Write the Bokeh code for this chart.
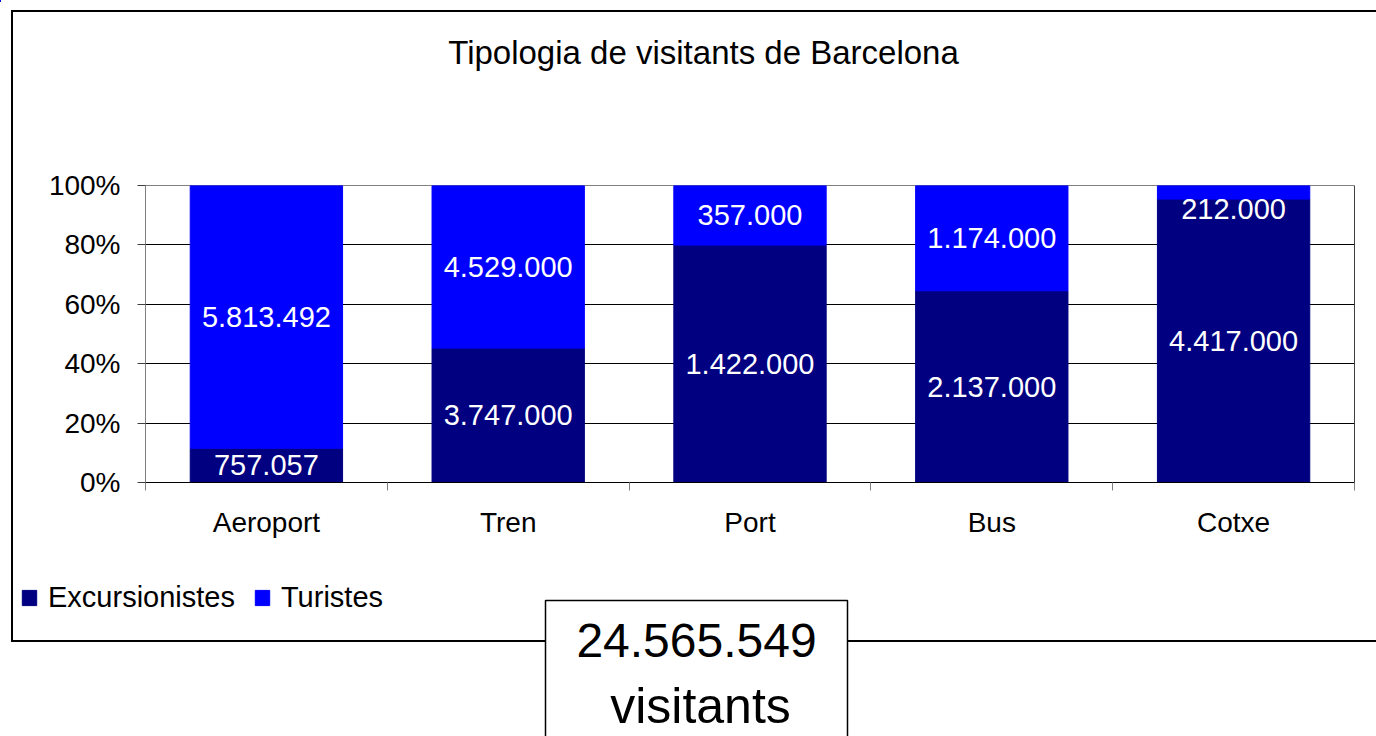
from bokeh.plotting import figure
from bokeh.models import (ColumnDataSource, Range1d, FixedTicker, NumeralTickFormatter,
                          LabelSet, Label, Legend, LegendItem, Span, BoxAnnotation)
from bokeh.core.properties import value
from bokeh.embed import file_html
from bokeh.resources import INLINE

# ---- data ----
categories = ["Aeroport", "Tren", "Port", "Bus", "Cotxe"]
excursionistes = [757057, 3747000, 1422000, 2137000, 4417000]
turistes = [5813492, 4529000, 357000, 1174000, 212000]
series_names = ["Excursionistes", "Turistes"]
y_ticks = [0, 0.2, 0.4, 0.6, 0.8, 1.0]
title_text = "Tipologia de visitants de Barcelona"
total_text = "24.565.549"
total_unit = "visitants"

FONT = "Liberation Sans"
NAVY = "#000080"
BLUE = "#0000FF"
W, H = 1376, 736
Y_CHART, H_CHART = 110, 450
LINE = "linear-gradient(#000,#000)"


def fmt(v):
    return f"{v:,}".replace(",", ".")


n = len(categories)
x = [i + 0.5 for i in range(n)]
tot = [e + t for e, t in zip(excursionistes, turistes)]
exc_pct = [e / s for e, s in zip(excursionistes, tot)]
tur_pct = [t / s for t, s in zip(turistes, tot)]
src = ColumnDataSource(dict(x=x, exc=exc_pct, tur=tur_pct))


def pos(top, **extra):
    st = {"position": "absolute", "left": "0px", "top": f"{top}px", "z-index": "0"}
    st.update(extra)
    return st


# ---- chart ----
p = figure(width=W, height=H_CHART, output_backend="svg", toolbar_location=None,
           x_range=Range1d(0, n), y_range=Range1d(0, 1),
           min_border_left=145, min_border_right=22,
           min_border_top=75, min_border_bottom=78,
           title_location=None, styles=pos(Y_CHART))
p.background_fill_color = "white"
p.border_fill_color = None
p.outline_line_color = "#808080"
p.outline_line_width = 1

rs = p.vbar_stack(["exc", "tur"], x="x", width=0.63, color=[NAVY, BLUE], source=src)

exc_y = [v / 2 for v in exc_pct]
tur_y = [min(e + t / 2, 0.92) for e, t in zip(exc_pct, tur_pct)]
lab_src = ColumnDataSource(dict(x=x + x, y=exc_y + tur_y,
                                text=[fmt(v) for v in excursionistes + turistes]))
p.add_layout(LabelSet(x="x", y="y", text="text", source=lab_src,
                      text_align="center", text_baseline="middle",
                      text_color="white", text_font=value(FONT),
                      text_font_size="29px"))

p.xaxis.ticker = FixedTicker(ticks=x, minor_ticks=list(range(n + 1)))
p.xaxis.major_label_overrides = {xv: c for xv, c in zip(x, categories)}
p.xaxis.major_tick_out = 0
p.xaxis.major_tick_in = 0
p.xaxis.minor_tick_out = 8
p.xaxis.minor_tick_in = 0
p.xaxis.minor_tick_line_color = "#808080"
p.xaxis.axis_line_color = "#000000"
p.xaxis.major_label_standoff = 16

p.yaxis.ticker = FixedTicker(ticks=y_ticks)
p.yaxis.formatter = NumeralTickFormatter(format="0%")
p.yaxis.major_tick_out = 8
p.yaxis.major_tick_in = 0
p.yaxis.minor_tick_line_color = None
p.yaxis.axis_line_color = "#808080"
p.yaxis.major_tick_line_color = "#404040"
p.yaxis.major_label_standoff = 17

for ax in (p.xaxis, p.yaxis):
    ax.major_label_text_font = FONT
    ax.major_label_text_font_size = "28px"
    ax.major_label_text_color = "black"

p.xgrid.visible = False
p.ygrid.ticker = FixedTicker(ticks=y_ticks[1:-1])
p.ygrid.grid_line_color = "black"
p.ygrid.grid_line_width = 1
p.add_layout(Span(location=n, dimension="height", line_color="black", line_width=1))

# ---- overlay page: chart border, title, legend, total box ----
border = (f"{LINE} 11px 10px / 1365px 2px no-repeat, "
          f"{LINE} 11px 10px / 2px 632px no-repeat, "
          f"{LINE} 11px 640px / 1365px 2px no-repeat")
ov = figure(width=W, height=H, output_backend="svg", toolbar_location=None,
            x_range=Range1d(0, W), y_range=Range1d(H, 0),
            x_axis_type=None, y_axis_type=None, min_border=0,
            title_location=None, styles=pos(0, background=border))
ov.background_fill_color = None
ov.border_fill_color = None
ov.outline_line_color = None
ov.grid.visible = False

ov.add_layout(Label(x=703, y=52, text=title_text, text_align="center",
                    text_baseline="middle", text_font=FONT,
                    text_font_size="33px", text_color="black"))

# legend swatches: same series on a range that keeps them out of view
ov.extra_x_ranges = {"swatch": Range1d(1000, 2000)}
d0 = ov.vbar(x="x", top="exc", width=0.63, color=NAVY, source=src, x_range_name="swatch")
d1 = ov.vbar(x="x", top="tur", width=0.63, color=BLUE, source=src, x_range_name="swatch")
legend = Legend(items=[LegendItem(label=series_names[0], renderers=[d0]),
                       LegendItem(label=series_names[1], renderers=[d1])],
                location=(20, 122), orientation="horizontal",
                glyph_width=18, glyph_height=19, label_height=34,
                label_standoff=10, spacing=18,
                padding=0, margin=0, border_line_color=None,
                background_fill_alpha=0,
                label_text_font=FONT, label_text_font_size="29px",
                label_text_color="black")
ov.add_layout(legend)

ov.add_layout(BoxAnnotation(left=545, right=847, top=600, bottom=800,
                            fill_color="white", fill_alpha=1,
                            line_color="black", line_alpha=1, line_width=1.5))
ov.add_layout(Label(x=696, y=640, text=total_text, text_align="center",
                    text_baseline="middle", text_font=FONT,
                    text_font_size="48px", text_color="black"))
ov.add_layout(Label(x=700, y=705, text=total_unit, text_align="center",
                    text_baseline="middle", text_font=FONT,
                    text_font_size="50px", text_color="black"))

open("out.html", "w").write(file_html([p, ov], INLINE))
